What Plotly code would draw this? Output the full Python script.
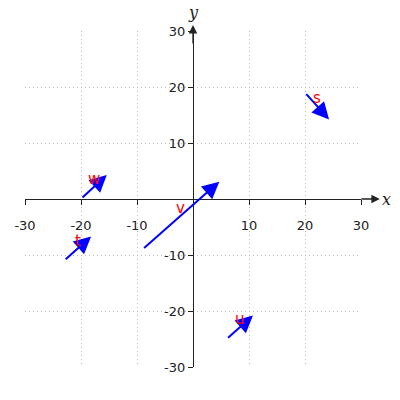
import plotly.graph_objects as go

names = ["s", "t", "u", "v", "w"]
x0 = [20, -23, 6, -9, -20]
y0 = [19, -11, -25, -9, 0]
dx = [4.3, 4.8, 4.7, 13.7, 4.6]
dy = [-4.8, 4.3, 4.2, 12.1, 4.3]
tick_vals = [-30, -20, -10, 10, 20, 30]
tick_text = ["-30", "-20", "-10", "10", "20", "30"]

fig = go.Figure()
# invisible trace so the axes exist
fig.add_trace(go.Scatter(x=[-30, 30], y=[-30, 30], mode="markers",
                         marker=dict(opacity=0), hoverinfo="skip", showlegend=False))

for n, xs, ys, u, v in zip(names, x0, y0, dx, dy):
    fig.add_annotation(x=xs + u, y=ys + v, ax=xs, ay=ys, xref="x", yref="y",
                       axref="x", ayref="y", text="", showarrow=True,
                       arrowhead=2, arrowsize=1.7, arrowwidth=2, arrowcolor="blue",
                       standoff=0, startstandoff=0)
    fig.add_annotation(x=xs + u / 2, y=ys + v / 2, xref="x", yref="y", text=n,
                       showarrow=False, yanchor="bottom", yshift=-3,
                       font=dict(family="DejaVu Sans", size=15, color="red"))

# axis arrow extensions and labels
fig.add_annotation(x=1.056, y=0.5, xref="paper", yref="paper", ax=-20, ay=0,
                   text="", showarrow=True, arrowhead=2, arrowsize=1.3,
                   arrowwidth=1.3, arrowcolor="#222", standoff=0)
fig.add_annotation(x=0.5, y=1.018, xref="paper", yref="paper", ax=0, ay=20,
                   text="", showarrow=True, arrowhead=2, arrowsize=1.3,
                   arrowwidth=1.3, arrowcolor="#222", standoff=0)
fig.add_annotation(x=1.076, y=0.5, xref="paper", yref="paper", text="x",
                   showarrow=False, xanchor="center", yanchor="middle",
                   font=dict(family="DejaVu Serif", size=16, color="#222", style="italic"))
fig.add_annotation(x=0.5, y=1.055, xref="paper", yref="paper", text="y",
                   showarrow=False, xanchor="center", yanchor="middle",
                   font=dict(family="DejaVu Serif", size=16, color="#222", style="italic"))

axis_style = dict(range=[-30, 30], tickvals=tick_vals, ticktext=tick_text,
                  anchor="free", position=0.5, automargin=False,
                  showline=True, linecolor="#222", linewidth=1.3, ticks="outside",
                  ticklen=5, tickcolor="#222", tickwidth=1.3, zeroline=False,
                  showgrid=True, gridcolor="#bbbbbb", griddash="1px,3px", gridwidth=1,
                  tickfont=dict(family="DejaVu Sans", size=13, color="#222"))

fig.update_xaxes(ticklabelstandoff=9, **axis_style)
fig.update_yaxes(**axis_style)

fig.update_layout(
    width=400, height=400,
    margin=dict(l=25, r=39, t=31, b=33),
    plot_bgcolor="white", paper_bgcolor="white",
    showlegend=False,
)

# drop the default page margin so the figure sits at the window corner
fig.write_html("out.html", config={"displayModeBar": False},
               post_script="document.body.style.margin='0';")
